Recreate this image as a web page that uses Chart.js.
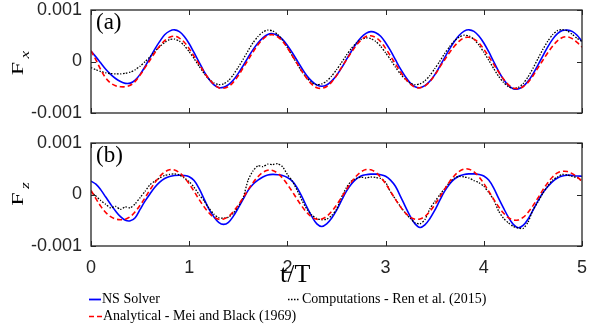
<!DOCTYPE html>
<html>
<head>
<meta charset="utf-8">
<script src="https://cdn.jsdelivr.net/npm/chart.js@4.4.0/dist/chart.umd.min.js"></script>
<style>
  body { margin: 0; background: #fff; width: 589px; height: 329px; position: relative; overflow: hidden; }
  canvas { position: absolute; left: 0; }
  .serif { position: absolute; font-family: "Liberation Serif", serif; color: #000; white-space: nowrap; }
  .ylab { font-size: 21px; line-height: 21px; transform: translate(-50%, -50%) rotate(-90deg) scale(1.15, 0.8); }
  .ylab i { font-size: 15px; position: relative; top: 7px; margin-left: 3px; }
  .leg { font-size: 14px; line-height: 14px; }
</style>
</head>
<body>
<canvas id="fxChart" width="589" height="123" style="top:0"></canvas>
<canvas id="fzChart" width="589" height="160" style="top:133px"></canvas>

<div class="serif ylab" style="left:19px; top:63px">F<i>x</i></div>
<div class="serif ylab" style="left:19px; top:194px">F<i>z</i></div>
<div class="serif" style="left:96px; top:10px; font-size:23px; line-height:23px">(a)</div>
<div class="serif" style="left:96px; top:143px; font-size:23px; line-height:23px">(b)</div>
<div class="serif" style="left:280px; top:261px; font-size:26px; line-height:26px">t/T</div>

<svg style="position:absolute;left:0;top:0" width="589" height="329">
  <line x1="89" y1="299.5" x2="101" y2="299.5" stroke="#0000ff" stroke-width="1.8"/>
  <line x1="288" y1="299.5" x2="300" y2="299.5" stroke="#000" stroke-width="1.3" stroke-dasharray="1.5,1.5"/>
  <line x1="89" y1="316.5" x2="102" y2="316.5" stroke="#ff0000" stroke-width="1.6" stroke-dasharray="5,3"/>
</svg>
<div class="serif leg" style="left:102px; top:292px">NS Solver</div>
<div class="serif leg" style="left:302px; top:292px">Computations - Ren et al. (2015)</div>
<div class="serif leg" style="left:103px; top:309px">Analytical - Mei and Black (1969)</div>

<script>
// sample times t/T
const tValues = [
  0, 0.05, 0.1, 0.15, 0.2, 0.25, 0.3, 0.35, 0.4, 0.45, 0.5, 0.55, 0.6, 0.65, 0.7, 0.75, 0.8, 0.85, 0.9, 0.95,
  1, 1.05, 1.1, 1.15, 1.2, 1.25, 1.3, 1.35, 1.4, 1.45, 1.5, 1.55, 1.6, 1.65, 1.7, 1.75, 1.8, 1.85, 1.9, 1.95,
  2, 2.05, 2.1, 2.15, 2.2, 2.25, 2.3, 2.35, 2.4, 2.45, 2.5, 2.55, 2.6, 2.65, 2.7, 2.75, 2.8, 2.85, 2.9, 2.95,
  3, 3.05, 3.1, 3.15, 3.2, 3.25, 3.3, 3.35, 3.4, 3.45, 3.5, 3.55, 3.6, 3.65, 3.7, 3.75, 3.8, 3.85, 3.9, 3.95,
  4, 4.05, 4.1, 4.15, 4.2, 4.25, 4.3, 4.35, 4.4, 4.45, 4.5, 4.55, 4.6, 4.65, 4.7, 4.75, 4.8, 4.85, 4.9, 4.95,
  5
];

// forces, in units of 1e-4
const fxNS = [
  2.0, 0.9, -0.3, -1.5, -2.5, -3.3, -3.9, -4.25, -4.2, -3.6, -2.5, -1.0, 0.7, 2.4, 3.9, 5.2, 5.9, 6.15, 5.8, 4.85,
  3.45, 1.7, -0.1, -1.9, -3.4, -4.5, -5.05, -5.0, -4.5, -3.6, -2.3, -0.8, 0.8, 2.3, 3.6, 4.6, 5.25, 5.4, 5.05, 4.3,
  3.1, 1.7, 0.15, -1.4, -2.8, -3.85, -4.55, -4.8, -4.55, -3.8, -2.7, -1.3, 0.35, 1.95, 3.45, 4.65, 5.45, 5.8, 5.6, 4.9,
  3.65, 2.1, 0.35, -1.4, -2.9, -4.15, -4.9, -5.1, -4.7, -3.85, -2.6, -1.0, 0.7, 2.4, 3.9, 5.1, 5.9, 6.15, 5.85, 4.95,
  3.6, 1.9, 0.0, -1.85, -3.45, -4.65, -5.3, -5.35, -4.85, -3.85, -2.45, -0.75, 1.05, 2.8, 4.3, 5.4, 6.0, 6.1, 5.85, 5.1,
  3.9
];
const fxAnalytical = [
  2.1, 0.3, -1.6, -3.2, -4.2, -4.7, -4.9, -4.9, -4.6, -3.85, -2.65, -1.2, 0.25, 1.7, 3.0, 4.05, 4.7, 4.9, 4.55, 3.75,
  2.5, 1.0, -0.45, -2.0, -3.35, -4.4, -5.1, -5.2, -4.85, -4.0, -2.75, -1.2, 0.3, 1.85, 3.25, 4.35, 5.05, 5.2, 4.8, 3.95,
  2.65, 1.1, -0.4, -1.95, -3.35, -4.45, -5.1, -5.2, -4.85, -4.0, -2.75, -1.2, 0.3, 1.75, 3.1, 4.15, 4.85, 5.0, 4.65, 3.85,
  2.55, 1.05, -0.45, -1.95, -3.3, -4.35, -5.0, -5.1, -4.75, -3.9, -2.65, -1.15, 0.3, 1.7, 2.95, 3.95, 4.6, 4.7, 4.35, 3.6,
  2.4, 0.95, -0.5, -2.0, -3.4, -4.5, -5.15, -5.25, -4.9, -4.05, -2.8, -1.3, 0.2, 1.65, 2.95, 4.0, 4.65, 4.8, 4.45, 3.7,
  2.8
];
const fxComputations = [
  -1.2, -1.6, -1.95, -2.2, -2.35, -2.4, -2.4, -2.3, -2.05, -1.6, -0.9, -0.05, 0.9, 1.95, 2.9, 3.7, 4.25, 4.35, 3.95, 3.1,
  1.9, 0.55, -0.9, -2.3, -3.4, -4.15, -4.5, -4.35, -3.7, -2.55, -1.1, 0.45, 2.1, 3.65, 4.85, 5.7, 6.1, 5.95, 5.25, 4.15,
  2.7, 1.1, -0.5, -2.05, -3.25, -4.15, -4.5, -4.35, -3.8, -2.85, -1.6, -0.25, 1.2, 2.5, 3.55, 4.3, 4.6, 4.45, 3.9, 2.95,
  1.7, 0.35, -1.1, -2.4, -3.45, -4.2, -4.5, -4.35, -3.75, -2.75, -1.4, 0.0, 1.5, 2.85, 4.0, 4.75, 5.1, 4.95, 4.3, 3.2,
  1.8, 0.25, -1.35, -2.85, -4.05, -4.9, -5.25, -5.05, -4.3, -3.0, -1.35, 0.5, 2.3, 3.9, 5.2, 6.0, 6.2, 5.95, 5.3, 4.5,
  3.9
];

const fzNS = [
  2.6, 2.0, 0.9, -0.5, -1.9, -3.2, -4.3, -5.0, -5.1, -4.5, -2.9, -1.3, 0.1, 1.4, 2.4, 3.1, 3.5, 3.7, 3.75, 3.7,
  3.45, 2.7, 1.2, -0.8, -2.8, -4.3, -5.4, -5.8, -5.4, -4.2, -2.6, -0.9, 0.8, 2.0, 2.8, 3.4, 3.8, 3.9, 3.85, 3.7,
  3.3, 2.6, 1.3, -0.5, -2.5, -4.3, -5.7, -6.2, -5.7, -4.6, -3.1, -1.2, 0.6, 2.0, 3.0, 3.6, 3.85, 3.95, 3.95, 3.85,
  3.55, 2.8, 1.6, -0.3, -2.3, -4.2, -5.7, -6.4, -5.9, -4.7, -3.1, -1.2, 0.6, 2.0, 3.0, 3.6, 3.9, 4.0, 4.0, 3.9,
  3.6, 2.8, 1.3, -0.7, -2.6, -4.4, -5.8, -6.45, -6.0, -4.8, -3.1, -1.3, 0.3, 1.5, 2.5, 3.2, 3.6, 3.75, 3.7, 3.6,
  3.55
];
const fzAnalytical = [
  0.8, -0.8, -2.3, -3.5, -4.3, -4.75, -4.9, -4.8, -4.3, -3.35, -2.1, -0.65, 0.9, 2.3, 3.5, 4.35, 4.8, 4.75, 4.25, 3.3,
  2.05, 0.6, -0.95, -2.35, -3.55, -4.4, -4.8, -4.75, -4.25, -3.3, -2.05, -0.6, 0.9, 2.3, 3.45, 4.3, 4.7, 4.65, 4.15, 3.2,
  1.95, 0.55, -0.95, -2.35, -3.55, -4.4, -4.8, -4.75, -4.25, -3.3, -2.05, -0.6, 0.9, 2.35, 3.55, 4.4, 4.85, 4.8, 4.3, 3.35,
  2.1, 0.6, -0.95, -2.35, -3.55, -4.4, -4.8, -4.75, -4.25, -3.3, -2.0, -0.55, 1.0, 2.45, 3.65, 4.5, 4.95, 4.9, 4.4, 3.45,
  2.15, 0.65, -0.9, -2.35, -3.6, -4.5, -4.95, -4.95, -4.45, -3.5, -2.2, -0.7, 0.85, 2.25, 3.4, 4.2, 4.5, 4.45, 4.05, 3.4,
  2.6
];
const fzComputations = [
  0.5, -0.3, -1.2, -1.9, -2.6, -2.3, -2.9, -2.4, -2.6, -1.8, -0.6, 0.6, 1.9, 2.6, 3.2, 3.7, 3.9, 4.0, 3.8, 3.2,
  2.5, 1.4, 0.0, -1.2, -2.6, -3.8, -4.5, -4.6, -4.4, -3.6, -2.3, -0.6, 2.8, 4.6, 5.6, 5.4, 5.9, 5.8, 6.0, 5.4,
  3.9, 2.6, 0.8, -1.2, -2.9, -4.0, -4.7, -4.9, -4.8, -4.1, -2.9, -0.6, 1.3, 2.6, 3.1, 3.4, 3.2, 3.4, 3.3, 3.1,
  2.4, 0.5, -0.9, -2.3, -3.6, -4.6, -5.5, -5.7, -4.9, -2.8, -1.4, -0.1, 1.1, 2.3, 3.2, 3.5, 3.4, 3.2, 2.7, 2.3,
  1.6, 0.4, -1.0, -3.2, -4.6, -5.5, -6.2, -6.5, -6.6, -5.4, -3.0, -1.5, 0.2, 1.6, 2.8, 3.4, 3.9, 3.8, 3.5, 3.3,
  2.6
];

const xTicks = [0, 1, 2, 3, 4, 5];
const xTickLabels = ['0', '1', '2', '3', '4', '5'];
const yTicks = [-10, 0, 10];
const yTickLabels = ['-0.001', '0', '0.001'];

const axisColor = '#262626';
const tickFont = { family: '"Liberation Sans", Arial, sans-serif', size: 18 };

const toPoints = arr => tValues.map((t, i) => ({ x: t, y: arr[i] }));

// matlab style box with inward ticks
const boxTicks = {
  id: 'boxTicks',
  afterDatasetsDraw(chart) {
    const { ctx, chartArea: a, scales } = chart;
    ctx.save();
    ctx.strokeStyle = axisColor;
    ctx.lineWidth = 1;
    ctx.beginPath();
    xTicks.forEach(v => {
      const px = Math.round(scales.x.getPixelForValue(v)) + 0.5;
      ctx.moveTo(px, a.top); ctx.lineTo(px, a.top + 5);
      ctx.moveTo(px, a.bottom); ctx.lineTo(px, a.bottom - 5);
    });
    yTicks.forEach(v => {
      const py = Math.round(scales.y.getPixelForValue(v)) + 0.5;
      ctx.moveTo(a.left, py); ctx.lineTo(a.left + 5, py);
      ctx.moveTo(a.right, py); ctx.lineTo(a.right - 5, py);
    });
    ctx.stroke();
    ctx.lineWidth = 1.3;
    ctx.strokeRect(a.left, a.top, a.right - a.left, a.bottom - a.top);
    ctx.restore();
  }
};

function makePanel(id, ns, analytical, computations, showX) {
  return new Chart(document.getElementById(id), {
    type: 'line',
    data: {
      datasets: [
        { label: 'NS Solver', data: toPoints(ns), borderColor: '#0000ff', borderWidth: 1.6, order: 2, tension: 0.35 },
        { label: 'Computations - Ren et al. (2015)', data: toPoints(computations), borderColor: '#000000', borderWidth: 1.3, borderDash: [1.5, 1.5], order: 1, tension: 0.2 },
        { label: 'Analytical - Mei and Black (1969)', data: toPoints(analytical), borderColor: '#ff0000', borderWidth: 1.6, borderDash: [5, 3], order: 0, tension: 0.35 }
      ]
    },
    options: {
      responsive: false,
      animation: false,
      layout: { padding: { top: 10, right: 7, bottom: showX ? 0 : 10, left: 0 } },
      plugins: { legend: { display: false }, tooltip: { enabled: false } },
      elements: { point: { radius: 0 } },
      scales: {
        x: {
          type: 'linear', min: 0, max: 5,
          display: showX,
          afterBuildTicks: s => { s.ticks = xTicks.map(v => ({ value: v })); },
          afterFit: s => {
            s.height = showX ? 47 : 0;
            s.paddingLeft = 0; s.paddingRight = 0; s.paddingTop = 0; s.paddingBottom = 0;
          },
          grid: { display: false, drawTicks: false },
          border: { display: false },
          ticks: { font: tickFont, color: axisColor, padding: 11, maxRotation: 0,
                   callback: v => xTickLabels[xTicks.indexOf(v)] }
        },
        y: {
          min: -10, max: 10,
          afterBuildTicks: s => { s.ticks = yTicks.map(v => ({ value: v })); },
          afterFit: s => {
            s.width = 91;
            s.paddingTop = 0; s.paddingBottom = 0; s.paddingLeft = 0; s.paddingRight = 0;
          },
          grid: { display: false, drawTicks: false },
          border: { display: false },
          ticks: { font: tickFont, color: axisColor, padding: 9,
                   callback: v => yTickLabels[yTicks.indexOf(v)] }
        }
      }
    },
    plugins: [boxTicks]
  });
}

makePanel('fxChart', fxNS, fxAnalytical, fxComputations, false);
makePanel('fzChart', fzNS, fzAnalytical, fzComputations, true);
</script>
</body>
</html>
